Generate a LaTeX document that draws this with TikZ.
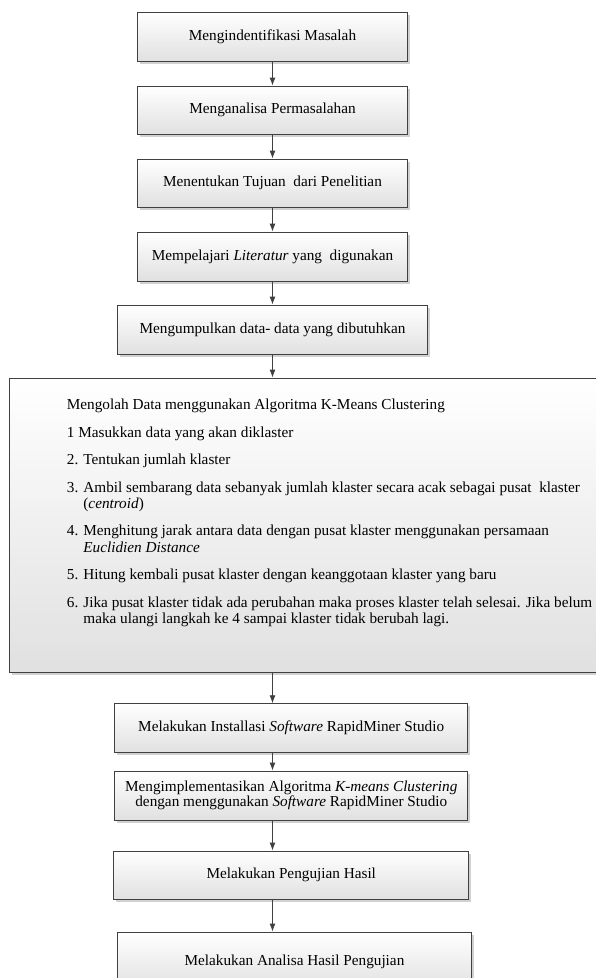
\documentclass[tikz,border=0pt]{standalone}
\usepackage{fontspec}
\setmainfont{Liberation Serif}
\usetikzlibrary{positioning, shadows, arrows.meta}

\begin{document}
\begin{tikzpicture}[x=1bp, y=-1bp,
    proses/.style={draw=black!75, line width=0.9bp, top color=white, bottom color=black!12,
        drop shadow={shadow xshift=2.5bp, shadow yshift=-2.5bp, fill=black!18, opacity=1},
        inner sep=0pt, align=center, font=\fontsize{15.3}{15}\selectfont},
    alir/.style={-{Latex[length=8bp,width=6bp]}, draw=black!75, line width=0.9bp}]
    \useasboundingbox (0,0) rectangle (596,978);

    \node[proses, minimum width=270bp, minimum height=49.5bp] (identifikasi) at (272.5,36.75) {Mengindentifikasi Masalah};
    \node[proses, minimum width=270bp, minimum height=48.5bp] (analisa) at (272.5,110.25) {Menganalisa Permasalahan};
    \node[proses, minimum width=270bp, minimum height=48bp] (tujuan) at (272.5,183) {Menentukan Tujuan~ dari Penelitian};
    \node[proses, minimum width=270bp, minimum height=49bp] (literatur) at (272.5,256.5) {Mempelajari \textit{Literatur} yang~ digunakan};
    \node[proses, minimum width=310bp, minimum height=49.5bp] (kumpul) at (272.5,329.75) {Mengumpulkan data- data yang dibutuhkan};

    \node[proses, minimum width=600bp, minimum height=294bp] (olah) at (309.3,525) {};
    \node[anchor=north west, align=left, inner sep=0pt, font=\fontsize{15.3}{16.5}\selectfont] (langkah) at (66.7,399) {%
        Mengolah Data menggunakan Algoritma K-Means Clustering\\[11bp]
        1 Masukkan data yang akan diklaster\\[11bp]
        2. Tentukan jumlah klaster\\[11bp]
        3. Ambil sembarang data sebanyak jumlah klaster secara acak sebagai pusat~ klaster\\
        \hphantom{3. }(\textit{centroid})\\[11bp]
        4. Menghitung jarak antara data dengan pusat klaster menggunakan persamaan\\
        \hphantom{4. }\textit{Euclidien Distance}\\[11bp]
        5. Hitung kembali pusat klaster dengan keanggotaan klaster yang baru\\[11bp]
        6. Jika pusat klaster tidak ada perubahan maka proses klaster telah selesai. Jika belum\\
        \hphantom{6. }maka ulangi langkah ke 4 sampai klaster tidak berubah lagi.};

    \node[proses, minimum width=353bp, minimum height=49bp] (install) at (291.2,728.2) {Melakukan Installasi \textit{Software} RapidMiner Studio};
    \node[proses, minimum width=353bp, minimum height=49bp] (implementasi) at (291.3,795.5) {Mengimplementasikan Algoritma \textit{K-means Clustering}\\dengan menggunakan \textit{Software} RapidMiner Studio};
    \node[proses, minimum width=355bp, minimum height=48bp] (uji) at (291.3,875) {Melakukan Pengujian Hasil};
    \node[proses, minimum width=354.5bp, minimum height=59bp] (analisahasil) at (294.5,961.5) {Melakukan Analisa Hasil Pengujian};

    % alur
    \draw[alir] (identifikasi) -- (analisa);
    \draw[alir] (analisa) -- (tujuan);
    \draw[alir] (tujuan) -- (literatur);
    \draw[alir] (literatur) -- (kumpul);
    \draw[alir] (kumpul.south) -- (olah.north -| kumpul.south);
    \draw[alir] (olah.south -| kumpul.south) -- (install.north -| kumpul.south);
    \draw[alir] (install.south -| kumpul.south) -- (implementasi.north -| kumpul.south);
    \draw[alir] (implementasi.south -| kumpul.south) -- (uji.north -| kumpul.south);
    \draw[alir] (uji.south -| kumpul.south) -- (analisahasil.north -| kumpul.south);
\end{tikzpicture}
\end{document}
